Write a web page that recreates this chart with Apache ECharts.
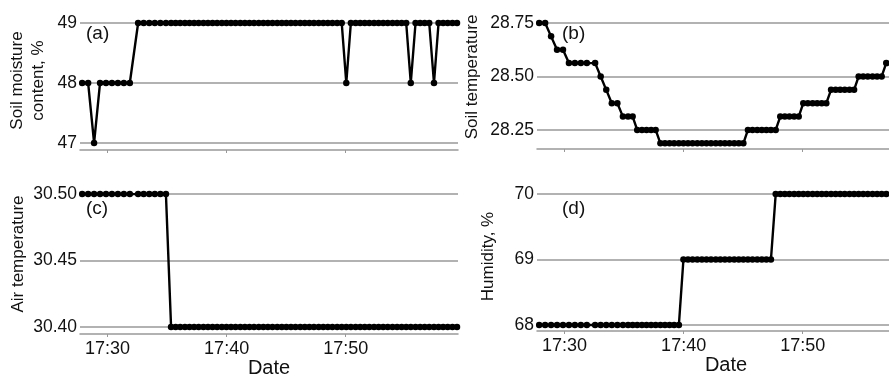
<!DOCTYPE html>
<html>
<head>
<meta charset="utf-8">
<script src="https://cdn.jsdelivr.net/npm/echarts@6.0.0/dist/echarts.min.js"></script>
<style>
  html, body { margin: 0; padding: 0; background: #fff; }
  #chart { width: 889px; height: 376px; }
</style>
</head>
<body>
<div id="chart"></div>
<script>
// sample times, seconds after 17:00:00
const timeSec = [
  1672, 1702, 1732, 1762, 1792, 1822, 1852, 1882, 1912,
  1954, 1982, 2010, 2038, 2066, 2094,
  2120, 2143, 2166, 2190, 2213, 2236, 2259, 2283, 2306, 2329,
  2352, 2376, 2399, 2422, 2445, 2469, 2492, 2515, 2538, 2562,
  2585, 2608, 2631, 2655, 2678, 2701, 2724, 2747, 2771, 2794,
  2817, 2840, 2864, 2887, 2910, 2933, 2957, 2980, 3003, 3026,
  3050, 3073, 3096, 3119, 3143, 3166, 3189, 3212, 3236, 3259,
  3282, 3305, 3328, 3352, 3375, 3398, 3421, 3445, 3468, 3491,
  3514, 3538, 3561
];

const moisture = [
  48, 48, 47, 48, 48, 48, 48, 48, 48,
  49, 49, 49, 49, 49, 49,
  49, 49, 49, 49, 49, 49, 49, 49, 49, 49,
  49, 49, 49, 49, 49, 49, 49, 49, 49, 49,
  49, 49, 49, 49, 49, 49, 49, 49, 49, 49,
  49, 49, 49, 49, 49, 49, 49, 49, 48, 49,
  49, 49, 49, 49, 49, 49, 49, 49, 49, 49,
  49, 49, 48, 49, 49, 49, 49, 48, 49, 49,
  49, 49, 49
];

const soilTemp = [
  28.75, 28.75, 28.6875, 28.625, 28.625, 28.5625, 28.5625, 28.5625, 28.5625,
  28.5625, 28.5, 28.4375, 28.375, 28.375, 28.3125,
  28.3125, 28.3125, 28.25, 28.25, 28.25, 28.25, 28.25, 28.1875, 28.1875, 28.1875,
  28.1875, 28.1875, 28.1875, 28.1875, 28.1875, 28.1875, 28.1875, 28.1875, 28.1875, 28.1875,
  28.1875, 28.1875, 28.1875, 28.1875, 28.1875, 28.1875, 28.25, 28.25, 28.25, 28.25,
  28.25, 28.25, 28.25, 28.3125, 28.3125, 28.3125, 28.3125, 28.3125, 28.375, 28.375,
  28.375, 28.375, 28.375, 28.375, 28.4375, 28.4375, 28.4375, 28.4375, 28.4375, 28.4375,
  28.5, 28.5, 28.5, 28.5, 28.5, 28.5, 28.5625, 28.5625, 28.5625, 28.5625,
  28.5625, 28.5625, 28.5625
];

const airTemp = [
  30.5, 30.5, 30.5, 30.5, 30.5, 30.5, 30.5, 30.5, 30.5,
  30.5, 30.5, 30.5, 30.5, 30.5, 30.5,
  30.4, 30.4, 30.4, 30.4, 30.4, 30.4, 30.4, 30.4, 30.4, 30.4,
  30.4, 30.4, 30.4, 30.4, 30.4, 30.4, 30.4, 30.4, 30.4, 30.4,
  30.4, 30.4, 30.4, 30.4, 30.4, 30.4, 30.4, 30.4, 30.4, 30.4,
  30.4, 30.4, 30.4, 30.4, 30.4, 30.4, 30.4, 30.4, 30.4, 30.4,
  30.4, 30.4, 30.4, 30.4, 30.4, 30.4, 30.4, 30.4, 30.4, 30.4,
  30.4, 30.4, 30.4, 30.4, 30.4, 30.4, 30.4, 30.4, 30.4, 30.4,
  30.4, 30.4, 30.4
];

const humidity = [
  68, 68, 68, 68, 68, 68, 68, 68, 68,
  68, 68, 68, 68, 68, 68,
  68, 68, 68, 68, 68, 68, 68, 68, 68, 68,
  68, 68, 69, 69, 69, 69, 69, 69, 69, 69,
  69, 69, 69, 69, 69, 69, 69, 69, 69, 69,
  69, 69, 70, 70, 70, 70, 70, 70, 70, 70,
  70, 70, 70, 70, 70, 70, 70, 70, 70, 70,
  70, 70, 70, 70, 70, 70, 70, 70, 70, 70,
  70, 70, 70
];

const xTickSec = [1800, 2400, 3000];
const xTickLabels = ['17:30', '17:40', '17:50'];

const moistureTicks = [47, 48, 49];
const soilTempTicks = [28.25, 28.5, 28.75];
const airTempTicks = [30.4, 30.45, 30.5];
const humidityTicks = [68, 69, 70];

const FONT = 'Liberation Sans, Arial, sans-serif';
const GRID_GRAY = '#999999';

// nameShift nudges the rotated axis title up the axis
const panels = [
  { tag: '(a)', values: moisture, ticks: moistureTicks, digits: 0,
    left: 80, top: 23, height: 127, min: 46.883, max: 49, tagX: 86, tagY: 24,
    name: 'Soil moisture\ncontent, %', nameGap: 31, nameShift: 12, bottom: false },
  { tag: '(b)', values: soilTemp, ticks: soilTempTicks, digits: 2,
    left: 537, top: 23, height: 126, min: 28.161, max: 28.75, tagX: 562, tagY: 24,
    name: 'Soil temperature', nameGap: 54, nameShift: 18, bottom: false },
  { tag: '(c)', values: airTemp, ticks: airTempTicks, digits: 2,
    left: 80, top: 194, height: 140, min: 30.3947, max: 30.5, tagX: 86, tagY: 199,
    name: 'Air temperature', nameGap: 51, nameShift: 20, bottom: true },
  { tag: '(d)', values: humidity, ticks: humidityTicks, digits: 0,
    left: 537, top: 194, height: 137, min: 67.908, max: 70, tagX: 562, tagY: 199,
    name: 'Humidity, %', nameGap: 38, nameShift: 12, bottom: true }
];

const option = {
  animation: false,
  backgroundColor: '#fff',
  textStyle: { fontFamily: FONT },
  title: panels.map(p => ({
    text: p.tag,
    left: p.tagX,
    top: p.tagY,
    padding: 0,
    textStyle: { fontFamily: FONT, fontSize: 19, fontWeight: 'normal', color: '#111' }
  })),
  grid: panels.map(p => ({
    left: p.left, top: p.top, width: 378, height: p.height,
    containLabel: false,
    outerBoundsMode: 'none'
  })),
  xAxis: panels.map((p, i) => ({
    gridIndex: i,
    type: 'value',
    min: 1661,
    max: 3566,
    axisLine: { lineStyle: { color: GRID_GRAY, width: 1.5 } },
    axisTick: { show: true, length: 3, customValues: xTickSec, lineStyle: { color: GRID_GRAY } },
    axisLabel: {
      show: p.bottom,
      customValues: xTickSec,
      formatter: v => xTickLabels[xTickSec.indexOf(v)],
      fontFamily: FONT, fontSize: 18, color: '#111', margin: 6
    },
    splitLine: { show: false },
    name: p.bottom ? 'Date' : '',
    nameLocation: 'middle',
    nameGap: 23,
    nameTextStyle: { fontFamily: FONT, fontSize: 20, color: '#111' }
  })),
  yAxis: panels.map((p, i) => ({
    gridIndex: i,
    type: 'value',
    min: p.min,
    max: p.max,
    axisLine: { show: false },
    axisTick: { show: false, customValues: p.ticks },
    axisLabel: {
      customValues: p.ticks,
      formatter: v => v.toFixed(p.digits),
      fontFamily: FONT, fontSize: 17.5, color: '#111', margin: 3
    },
    splitLine: { show: true, lineStyle: { color: GRID_GRAY, width: 1.5 } },
    name: p.name,
    nameLocation: 'middle',
    nameRotate: 90,
    nameGap: p.nameGap,
    nameTextStyle: {
      fontFamily: FONT, fontSize: 17, color: '#111', lineHeight: 21,
      padding: [0, 0, 0, p.nameShift]
    }
  })),
  series: panels.map((p, i) => ({
    type: 'line',
    xAxisIndex: i,
    yAxisIndex: i,
    data: timeSec.map((t, j) => [t, p.values[j]]),
    symbol: 'circle',
    symbolSize: 6.5,
    showAllSymbol: true,
    lineStyle: { color: '#000', width: 2.4 },
    itemStyle: { color: '#000' }
  }))
};

const myChart = echarts.init(document.getElementById('chart'));
myChart.setOption(option);
</script>
</body>
</html>
